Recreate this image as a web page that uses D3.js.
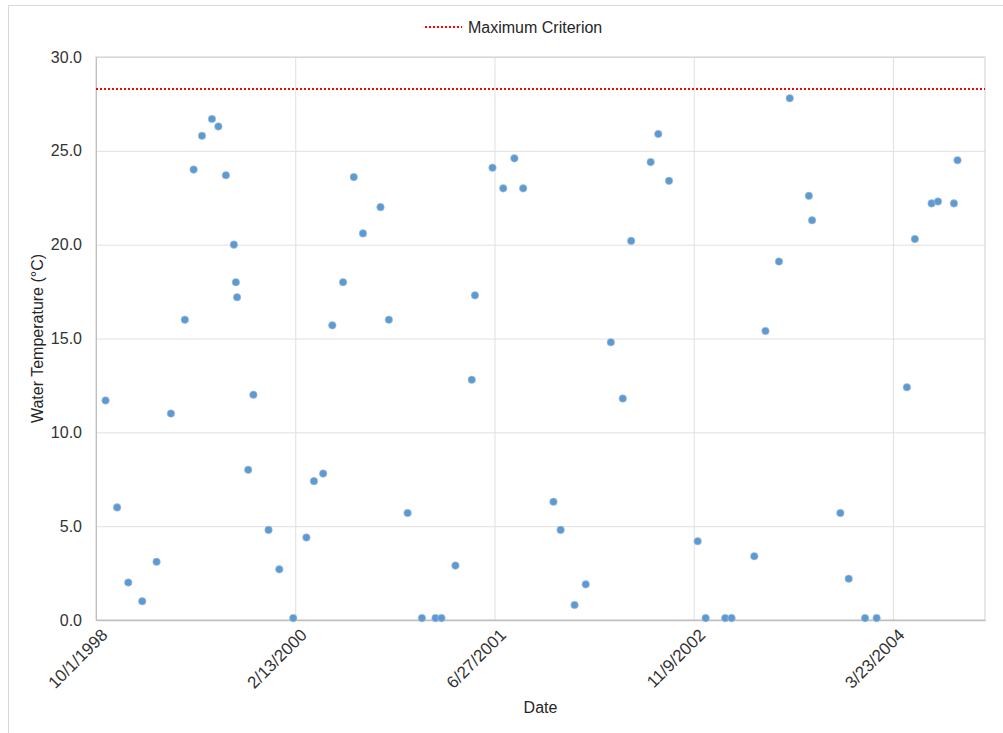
<!DOCTYPE html>
<html>
<head>
<meta charset="utf-8">
<script src="https://cdn.jsdelivr.net/npm/d3@7"></script>
<style>
  html, body { margin: 0; padding: 0; background: #fff; }
  svg { display: block; font-family: "Liberation Sans", Arial, sans-serif; }
</style>
</head>
<body>
<div id="chart"></div>
<script>
// sample dates and measured water temperature (°C)
const sampleDates = [
  "1998-10-25", "1998-11-23", "1998-12-21", "1999-01-25", "1999-03-02", "1999-04-07",
  "1999-05-12", "1999-06-03", "1999-06-24", "1999-07-19", "1999-08-04", "1999-08-23",
  "1999-09-12", "1999-09-17", "1999-09-20", "1999-10-18", "1999-10-31", "1999-12-08",
  "2000-01-04", "2000-02-08", "2000-03-12", "2000-03-31", "2000-04-23", "2000-05-16",
  "2000-06-12", "2000-07-09", "2000-08-01", "2000-09-14", "2000-10-05", "2000-11-21",
  "2000-12-27", "2001-01-30", "2001-02-14", "2001-03-21", "2001-05-01", "2001-05-09",
  "2001-06-22", "2001-07-19", "2001-08-16", "2001-09-07", "2001-11-22", "2001-12-10",
  "2002-01-14", "2002-02-11", "2002-04-15", "2002-05-15", "2002-06-05", "2002-07-24",
  "2002-08-12", "2002-09-08", "2002-11-19", "2002-12-09", "2003-01-27", "2003-02-12",
  "2003-04-10", "2003-05-08", "2003-06-11", "2003-07-08", "2003-08-25", "2003-09-02",
  "2003-11-12", "2003-12-03", "2004-01-13", "2004-02-11", "2004-04-27", "2004-05-17",
  "2004-06-28", "2004-07-14", "2004-08-23", "2004-09-01"
];
const waterTemps = [
  11.7, 6.0, 2.0, 1.0, 3.1, 11.0,
  16.0, 24.0, 25.8, 26.7, 26.3, 23.7,
  20.0, 18.0, 17.2, 8.0, 12.0, 4.8,
  2.7, 0.1, 4.4, 7.4, 7.8, 15.7,
  18.0, 23.6, 20.6, 22.0, 16.0, 5.7,
  0.1, 0.1, 0.1, 2.9, 12.8, 17.3,
  24.1, 23.0, 24.6, 23.0, 6.3, 4.8,
  0.8, 1.9, 14.8, 11.8, 20.2, 24.4,
  25.9, 23.4, 4.2, 0.1, 0.1, 0.1,
  3.4, 15.4, 19.1, 27.8, 22.6, 21.3,
  5.7, 2.2, 0.1, 0.1, 12.4, 20.3,
  22.2, 22.3, 22.2, 24.5
];
const maxCriterion = 28.3;
const xTickDates = ["1998-10-01", "2000-02-13", "2001-06-27", "2002-11-09", "2004-03-23"];
const xDomain = ["1998-10-01", "2004-11-09"];
const yTicks = [0, 5, 10, 15, 20, 25, 30];

const width = 1003, height = 733;
const margin = { top: 57, right: 18, bottom: 113, left: 96 };

const parseDate = d3.timeParse("%Y-%m-%d");
const fmtTick = d => `${d.getMonth() + 1}/${d.getDate()}/${d.getFullYear()}`;

const data = sampleDates.map((d, i) => ({ date: parseDate(d), value: waterTemps[i] }));

const svg = d3.select("#chart").append("svg")
    .attr("width", width)
    .attr("height", height);

// chart frame (runs past the window, as in the reference)
svg.append("rect")
    .attr("x", 8.5).attr("y", 5.5)
    .attr("width", width + 20).attr("height", height + 20)
    .attr("fill", "#fff")
    .attr("stroke", "#d9d9d9");

const x = d3.scaleTime()
    .domain(xDomain.map(parseDate))
    .range([margin.left, width - margin.right]);

const y = d3.scaleLinear()
    .domain([0, 30])
    .range([height - margin.bottom, margin.top]);

const innerW = width - margin.left - margin.right;
const innerH = height - margin.top - margin.bottom;

// grid
svg.append("g")
    .attr("transform", `translate(${margin.left},0)`)
    .call(d3.axisLeft(y).tickValues(yTicks).tickSize(-innerW).tickFormat(""))
    .call(g => g.select(".domain").remove())
    .call(g => g.selectAll(".tick line").attr("stroke", "#e0e0e0"));

svg.append("g")
    .attr("transform", `translate(0,${height - margin.bottom})`)
    .call(d3.axisBottom(x).tickValues(xTickDates.map(parseDate)).tickSize(-innerH).tickFormat(""))
    .call(g => g.select(".domain").remove())
    .call(g => g.selectAll(".tick line").attr("stroke", "#e0e0e0"));

// plot frame
svg.append("rect")
    .attr("x", margin.left).attr("y", margin.top)
    .attr("width", innerW).attr("height", innerH)
    .attr("fill", "none")
    .attr("stroke", "#d0d0d0");

// y axis
svg.append("g")
    .attr("transform", `translate(${margin.left},0)`)
    .call(d3.axisLeft(y).tickValues(yTicks).tickSize(0).tickPadding(14).tickFormat(d3.format(".1f")))
    .call(g => g.select(".domain").attr("stroke", "#bfbfbf"))
    .call(g => g.selectAll(".tick text")
        .attr("fill", "#333")
        .style("font-size", "16px"));

// x axis
svg.append("g")
    .attr("transform", `translate(0,${height - margin.bottom})`)
    .call(d3.axisBottom(x).tickValues(xTickDates.map(parseDate)).tickSize(0).tickFormat(fmtTick))
    .call(g => g.select(".domain").attr("stroke", "#bfbfbf").attr("stroke-width", 1.5))
    .call(g => g.selectAll(".tick text")
        .attr("fill", "#333")
        .style("font-size", "17px")
        .attr("text-anchor", "end")
        .attr("dy", "0")
        .attr("transform", "translate(10,14) rotate(-45)"));

// maximum criterion line
svg.append("line")
    .attr("x1", margin.left).attr("x2", width - margin.right)
    .attr("y1", y(maxCriterion)).attr("y2", y(maxCriterion))
    .attr("stroke", "#ff0000")
    .attr("stroke-width", 2)
    .attr("stroke-dasharray", "2,2");

// points
svg.append("g")
    .selectAll("circle")
    .data(data)
    .join("circle")
    .attr("cx", d => x(d.date))
    .attr("cy", d => y(d.value))
    .attr("r", 3.8)
    .attr("fill", "#5b9bd5")
    .attr("stroke", "#b8c4d0")
    .attr("stroke-width", 0.6);

// axis labels
svg.append("text")
    .attr("transform", `translate(43,${margin.top + innerH / 2}) rotate(-90)`)
    .attr("text-anchor", "middle")
    .style("font-size", "16px")
    .attr("fill", "#262626")
    .text("Water Temperature (°C)");

svg.append("text")
    .attr("x", margin.left + innerW / 2)
    .attr("y", 713)
    .attr("text-anchor", "middle")
    .style("font-size", "16px")
    .attr("fill", "#262626")
    .text("Date");

// legend
const legend = svg.append("g").attr("transform", "translate(425,27)");
legend.append("line")
    .attr("x1", 0).attr("x2", 37)
    .attr("stroke", "#ff0000")
    .attr("stroke-width", 2)
    .attr("stroke-dasharray", "2,2");
legend.append("text")
    .attr("x", 43).attr("y", 5.5)
    .style("font-size", "16px")
    .attr("fill", "#262626")
    .text("Maximum Criterion");
</script>
</body>
</html>
